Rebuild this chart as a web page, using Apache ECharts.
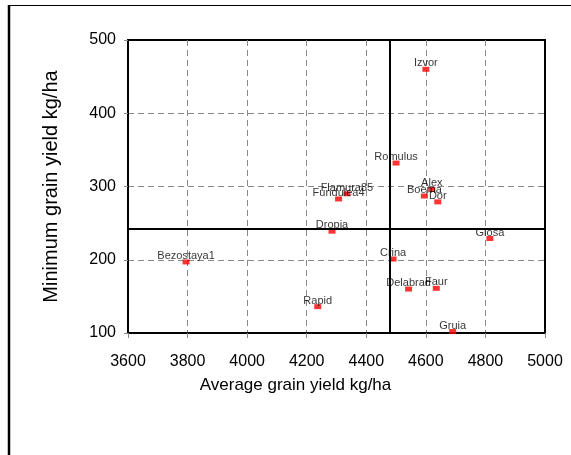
<!DOCTYPE html>
<html>
<head>
<meta charset="utf-8">
<script src="https://cdn.jsdelivr.net/npm/echarts@6/dist/echarts.min.js"></script>
<style>
  html, body { margin: 0; padding: 0; background: #fff; }
  #chart { width: 571px; height: 455px; }
</style>
</head>
<body>
<div id="chart"></div>
<script>
// 品种名称
var varieties = ["Izvor", "Romulus", "Alex", "Boema", "Dor", "Flamura85", "Fundulea4", "Dropia",
  "Glosa", "Crina", "Bezostaya1", "Delabrad", "Faur", "Rapid", "Gruia"];
// 平均产量 kg/ha
var avgYield = [4600, 4500, 4620, 4595, 4640, 4335, 4307, 4285, 4815, 4490, 3795, 4542, 4635, 4237, 4690];
// 最低产量 kg/ha
var minYield = [460, 332, 296, 287, 279, 290, 283, 239, 229, 201, 197, 160, 161, 136, 102];
// 参考线（均值）
var avgLine = 4478;
var minLine = 242;

var font = "'Liberation Sans', Arial, sans-serif";

(function () {
  var myChart = echarts.init(document.getElementById("chart"));
  var points = varieties.map(function (name, i) {
    return { name: name, value: [avgYield[i], minYield[i]] };
  });

  var option = {
    animation: false,
    grid: {
      left: 128,
      top: 40,
      right: 26,
      bottom: 122,
      show: true,
      borderColor: "#000",
      borderWidth: 2,
      containLabel: false,
      outerBoundsMode: "none"
    },
    // 外框（左、上）
    graphic: [
      { type: "line", shape: { x1: 9, y1: 5, x2: 9, y2: 455 }, style: { stroke: "#000", lineWidth: 2.5 } },
      { type: "line", shape: { x1: 8, y1: 5.5, x2: 571, y2: 5.5 }, style: { stroke: "#000", lineWidth: 1.2 } }
    ],
    xAxis: {
      type: "value",
      min: 3600,
      max: 5000,
      interval: 200,
      name: "Average grain yield kg/ha",
      nameLocation: "middle",
      nameGap: 44,
      nameTextStyle: { color: "#000", fontSize: 17, fontFamily: font, padding: [0, 82, 0, 0] },
      axisLine: { show: true, lineStyle: { color: "#000", width: 2 } },
      axisTick: { show: true, length: 5, lineStyle: { color: "#888" } },
      axisLabel: {
        color: "#000", fontSize: 16, fontFamily: font, margin: 21,
        formatter: function (v) { return String(v); }
      },
      splitLine: { show: true, showMinLine: false, showMaxLine: false, lineStyle: { color: "#888", type: [6, 4], width: 1 } }
    },
    yAxis: {
      type: "value",
      min: 100,
      max: 500,
      interval: 100,
      name: "Minimum grain yield kg/ha",
      nameLocation: "middle",
      nameGap: 67,
      nameTextStyle: { color: "#000", fontSize: 20, fontFamily: font },
      axisLine: { show: true, lineStyle: { color: "#000", width: 2 } },
      axisTick: { show: true, length: 4, lineStyle: { color: "#888" } },
      axisLabel: { color: "#000", fontSize: 16, fontFamily: font, margin: 12 },
      splitLine: { show: true, showMinLine: false, showMaxLine: false, lineStyle: { color: "#888", type: [6, 4], width: 1 } }
    },
    series: [
      {
        type: "scatter",
        symbol: "rect",
        symbolSize: [7, 5],
        itemStyle: { color: "#ff0000" },
        data: points,
        label: {
          show: true,
          position: "top",
          distance: 0,
          offset: [0, 2],
          formatter: "{b}",
          color: "#000",
          fontSize: 11,
          fontFamily: font
        },
        markLine: {
          silent: true,
          symbol: "none",
          label: { show: false },
          lineStyle: { color: "#000", width: 2, type: "solid" },
          data: [{ xAxis: avgLine }, { yAxis: minLine }]
        }
      }
    ]
  };
  myChart.setOption(option);
  window.addEventListener("resize", function () {
    myChart.resize();
  });
})();
</script>
</body>
</html>
